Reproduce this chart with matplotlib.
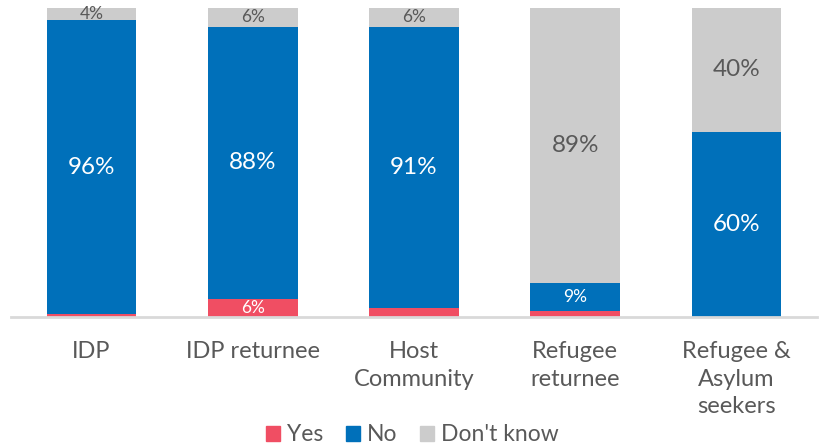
import numpy as np
import matplotlib
matplotlib.use('Agg')
import matplotlib.pyplot as plt
from matplotlib.patches import Patch

plt.rcParams['font.family'] = ['Lato', 'DejaVu Sans']

groups = ['IDP', 'IDP returnee', 'Host\nCommunity', 'Refugee\nreturnee',
          'Refugee &\nAsylum\nseekers']
yes = np.array([1, 6, 3, 2, 0])
no = np.array([96, 88, 91, 9, 60])
dont_know = np.array([4, 6, 6, 89, 40])

RED = '#F04E63'
BLUE = '#0070BA'
GREY = '#CCCCCC'
TEXT = '#595959'

# 100% stacked: scale each bar to its own total
total = yes + no + dont_know
yes_p = yes / total * 100
no_p = no / total * 100
dk_p = dont_know / total * 100

fig = plt.figure(figsize=(8.25, 4.46), dpi=100)
ax = fig.add_axes([0.0133, 0.289, 0.977, 0.693])

x = np.arange(len(groups))
w = 0.556
ax.bar(x, yes_p, w, color=RED)
ax.bar(x, no_p, w, bottom=yes_p, color=BLUE)
ax.bar(x, dk_p, w, bottom=yes_p + no_p, color=GREY)

ax.set_xlim(-0.5, len(groups) - 0.5)
ax.set_ylim(0, 100)

# value labels: small segments get smaller text
small, big = 12.5, 17.5
for i in range(len(groups)):
    if yes[i] >= 5:
        ax.text(x[i], yes_p[i] / 2, '%d%%' % yes[i], ha='center', va='center',
                color='white', fontsize=small)
    mid = yes_p[i] + no_p[i] / 2
    ax.text(x[i], mid, '%d%%' % no[i], ha='center', va='center',
            color='white', fontsize=small if no[i] < 20 else big)
    top = yes_p[i] + no_p[i] + dk_p[i] / 2
    ax.text(x[i], top, '%d%%' % dont_know[i], ha='center', va='center',
            color=TEXT, fontsize=small if dont_know[i] < 20 else big)

for s in ['top', 'right', 'left']:
    ax.spines[s].set_visible(False)
ax.spines['bottom'].set_color('#D9D9D9')
ax.spines['bottom'].set_linewidth(2)
ax.set_yticks([])
ax.set_xticks(x)
ax.set_xticklabels(groups, fontsize=17, color=TEXT, linespacing=1.4)
ax.tick_params(axis='x', length=0, pad=17)

handles = [Patch(color=RED, label='Yes'), Patch(color=BLUE, label='No'),
           Patch(color=GREY, label="Don't know")]
fig.legend(handles=handles, loc='lower center', bbox_to_anchor=(0.5, -0.045),
           ncol=3, frameon=False, fontsize=16.5, labelcolor=TEXT,
           handlelength=0.6, handleheight=0.6, handletextpad=0.3,
           columnspacing=1.0)

fig.savefig('out.png', dpi=100)
